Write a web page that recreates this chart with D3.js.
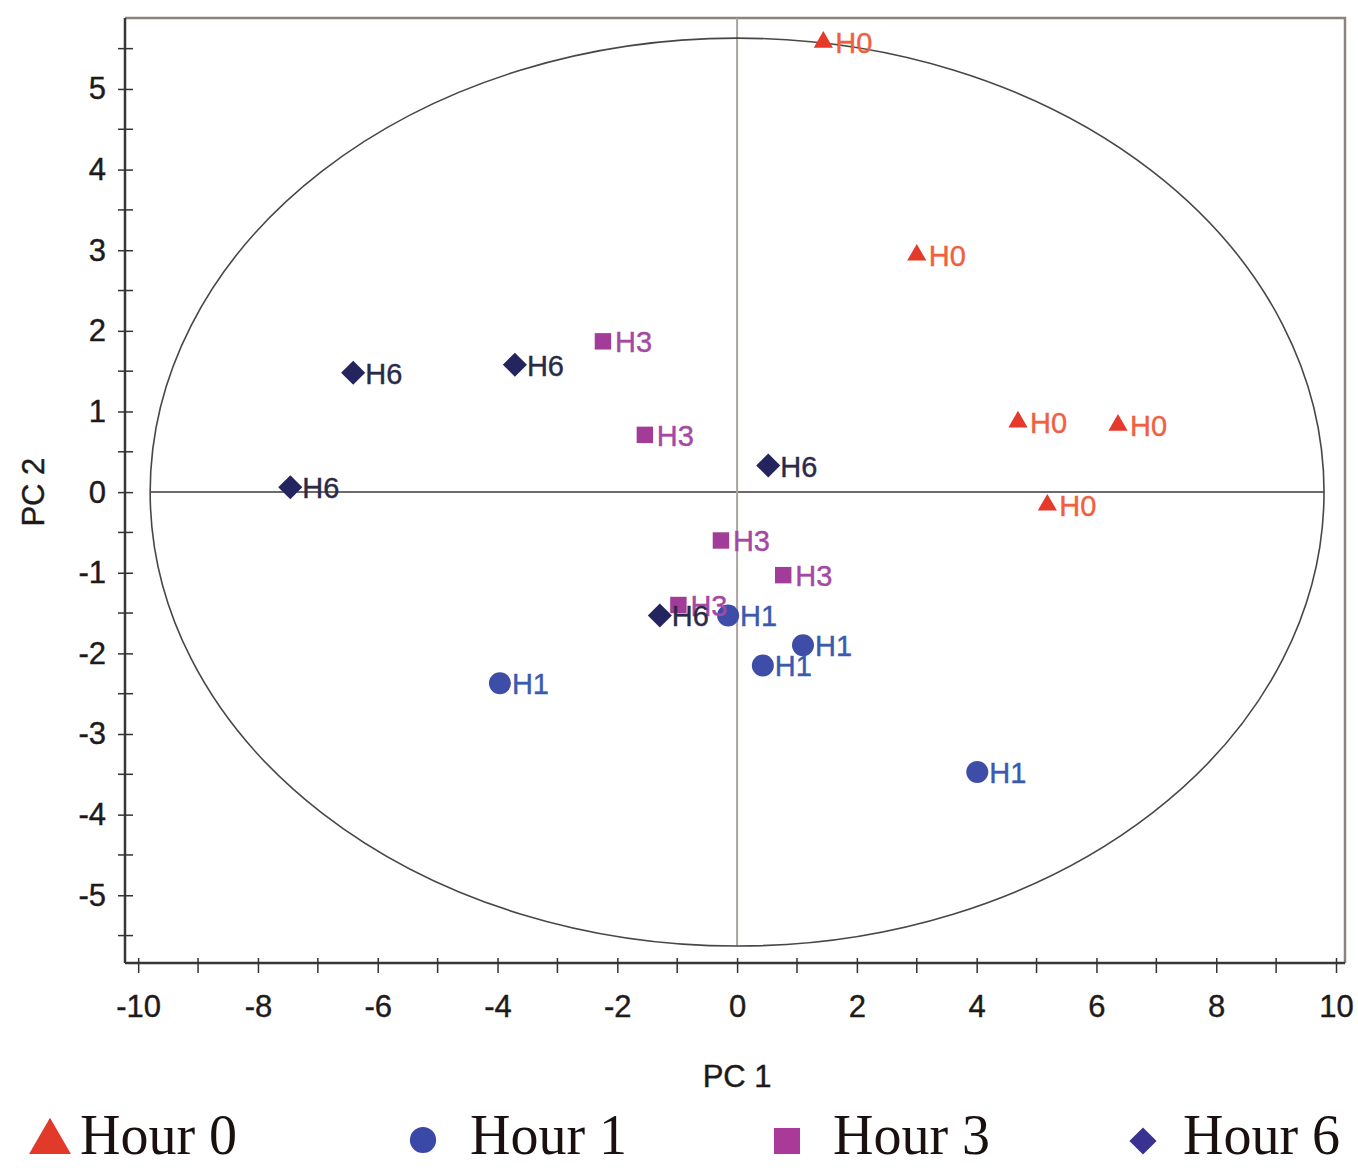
<!DOCTYPE html>
<html>
<head>
<meta charset="utf-8">
<script src="https://cdn.jsdelivr.net/npm/d3@7"></script>
<style>
  html, body { margin: 0; padding: 0; background: #fff; }
  svg { display: block; }
</style>
</head>
<body>
<svg id="chart" width="1358" height="1168"></svg>
<script>
// groups and point labels
const groups = ['Hour 0', 'Hour 1', 'Hour 3', 'Hour 6'];
const pointLabels = ['H0', 'H1', 'H3', 'H6'];

// PC scores
const pc1Hour0 = [1.44, 3.0, 4.69, 6.36, 5.18];
const pc2Hour0 = [5.58, 2.94, 0.87, 0.83, -0.16];
const pc1Hour1 = [-3.96, -0.15, 1.10, 0.43, 4.01];
const pc2Hour1 = [-2.37, -1.53, -1.90, -2.15, -3.47];
const pc1Hour3 = [-2.24, -1.54, -0.27, 0.77, -0.98];
const pc2Hour3 = [1.87, 0.71, -0.60, -1.03, -1.40];
const pc1Hour6 = [-6.41, -3.71, -7.46, 0.52, -1.29];
const pc2Hour6 = [1.48, 1.58, 0.06, 0.33, -1.53];

const xTicks = [-10, -8, -6, -4, -2, 0, 2, 4, 6, 8, 10];
const yTicks = [-5, -4, -3, -2, -1, 0, 1, 2, 3, 4, 5];

// confidence ellipse radii (PC units)
const ellipseRx = 9.8;
const ellipseRy = 5.63;

const pc1 = [pc1Hour0, pc1Hour1, pc1Hour3, pc1Hour6];
const pc2 = [pc2Hour0, pc2Hour1, pc2Hour3, pc2Hour6];

const markerColors = ['#e5392b', '#3e4ea8', '#a23c98', '#24245e'];
const labelColors = ['#f0603e', '#3a5ab0', '#a548a4', '#2a2a48'];
const legendColors = ['#e23a2a', '#3a48a8', '#a93a98', '#3a3290'];

const svg = d3.select('#chart');
const margin = { top: 18, left: 125, right: 13, bottom: 205 };
const width = 1358 - margin.left - margin.right;
const height = 1168 - margin.top - margin.bottom;

const x = d3.scaleLinear().domain([-10.22, 10.15]).range([0, width]);
const y = d3.scaleLinear().domain([-5.84, 5.88]).range([height, 0]);

const g = svg.append('g').attr('transform', `translate(${margin.left},${margin.top})`);

// frame: top and right lines
g.append('path')
  .attr('d', `M0,0H${width}V${height}`)
  .attr('fill', 'none')
  .attr('stroke', '#8a8480')
  .attr('stroke-width', 2.5);

// crosshair
g.append('line')
  .attr('x1', x(-ellipseRx)).attr('x2', x(ellipseRx))
  .attr('y1', y(0)).attr('y2', y(0))
  .attr('stroke', '#6e6a68').attr('stroke-width', 2);
g.append('line')
  .attr('x1', x(0)).attr('x2', x(0))
  .attr('y1', 0).attr('y2', y(-ellipseRy))
  .attr('stroke', '#a8a4a2').attr('stroke-width', 2);

// ellipse
g.append('ellipse')
  .attr('cx', x(0)).attr('cy', y(0))
  .attr('rx', x(ellipseRx) - x(0))
  .attr('ry', y(0) - y(ellipseRy))
  .attr('fill', 'none')
  .attr('stroke', '#4a4646')
  .attr('stroke-width', 1.6);

// axes
const tickFont = (sel) => sel.selectAll('text')
  .attr('font-family', '"Liberation Sans", Arial, sans-serif')
  .attr('font-size', 31)
  .attr('fill', '#1e1a1a')
  .attr('stroke', '#1e1a1a')
  .attr('stroke-width', 0.4);

const hyphenFormat = (d) => String(d);

const xMinor = d3.range(-9, 10, 2);
const yMinor = d3.range(-5.5, 6, 1);

const xAxis = g.append('g').attr('transform', `translate(0,${height})`)
  .call(d3.axisBottom(x).tickValues(xTicks).tickSize(10).tickPadding(22).tickFormat(hyphenFormat));
xAxis.call(tickFont);
xAxis.selectAll('.tick line').attr('y1', -5);
xAxis.select('.domain').attr('d', `M0,0H${width}`);
xAxis.selectAll('.minor').data(xMinor).enter().append('line')
  .attr('x1', (d) => x(d)).attr('x2', (d) => x(d))
  .attr('y1', -5).attr('y2', 10).attr('stroke', '#333');

const yAxis = g.append('g')
  .call(d3.axisLeft(y).tickValues(yTicks).tickSize(7).tickPadding(12).tickFormat(hyphenFormat));
yAxis.call(tickFont);
yAxis.selectAll('.tick line').attr('x1', 8);
yAxis.select('.domain').attr('d', `M0,0V${height}`);
yAxis.selectAll('.minor').data(yMinor).enter().append('line')
  .attr('y1', (d) => y(d)).attr('y2', (d) => y(d))
  .attr('x1', -7).attr('x2', 8).attr('stroke', '#333');

g.selectAll('.domain').attr('stroke', '#3a3636').attr('stroke-width', 2.5);
g.selectAll('.tick line').attr('stroke', '#333').attr('stroke-width', 1.5);
g.selectAll('line').filter(function () { return !this.closest('.tick') && this.parentNode !== g.node(); })
  .attr('stroke-width', 1.5);

// axis titles
const titleFont = (sel) => sel
  .attr('font-family', '"Liberation Sans", Arial, sans-serif')
  .attr('font-size', 31)
  .attr('fill', '#1e1a1a')
  .attr('stroke', '#1e1a1a')
  .attr('stroke-width', 0.4);
svg.append('text')
  .attr('x', margin.left + x(0)).attr('y', 1087)
  .attr('text-anchor', 'middle')
  .call(titleFont)
  .text('PC 1');
svg.append('text')
  .attr('transform', `translate(44,${margin.top + y(0)}) rotate(-90)`)
  .attr('text-anchor', 'middle')
  .call(titleFont)
  .text('PC 2');

// marker shapes
const shapes = [
  { type: d3.symbolTriangle, size: 160, rotate: 0 },
  { type: d3.symbolCircle, size: 380, rotate: 0 },
  { type: d3.symbolSquare, size: 270, rotate: 0 },
  { type: d3.symbolSquare, size: 290, rotate: 45 },
];

groups.forEach((name, i) => {
  const pts = pc1[i].map((v, j) => ({ x: v, y: pc2[i][j] }));
  const layer = g.append('g').attr('class', `series-${i}`);
  const shape = shapes[i];
  layer.selectAll('path').data(pts).enter().append('path')
    .attr('d', d3.symbol().type(shape.type).size(shape.size))
    .attr('transform', (d) => `translate(${x(d.x)},${y(d.y)}) rotate(${shape.rotate})`)
    .attr('fill', markerColors[i]);
  layer.selectAll('text').data(pts).enter().append('text')
    .attr('x', (d) => x(d.x) + 12)
    .attr('y', (d) => y(d.y) + 11)
    .attr('font-family', '"Liberation Sans", Arial, sans-serif')
    .attr('font-size', 29)
    .attr('fill', labelColors[i])
    .attr('stroke', labelColors[i])
    .attr('stroke-width', 0.4)
    .text(pointLabels[i]);
});

// legend
const legendX = [50, 423, 787, 1143];
const legendText = [80, 470, 833, 1183];
const legendShapes = [
  { type: d3.symbolTriangle, size: 760, rotate: 0, dy: 1142 },
  { type: d3.symbolCircle, size: 540, rotate: 0, dy: 1140 },
  { type: d3.symbolSquare, size: 680, rotate: 0, dy: 1141 },
  { type: d3.symbolSquare, size: 370, rotate: 45, dy: 1141 },
];
const legend = svg.append('g').attr('class', 'legend');
groups.forEach((name, i) => {
  const s = legendShapes[i];
  legend.append('path')
    .attr('d', d3.symbol().type(s.type).size(s.size))
    .attr('transform', `translate(${legendX[i]},${s.dy}) rotate(${s.rotate})`)
    .attr('fill', legendColors[i]);
  legend.append('text')
    .attr('x', legendText[i]).attr('y', 1154)
    .attr('font-family', '"Liberation Serif", "Times New Roman", serif')
    .attr('font-size', 56)
    .attr('fill', '#1a1010')
    .text(name);
});
</script>
</body>
</html>
